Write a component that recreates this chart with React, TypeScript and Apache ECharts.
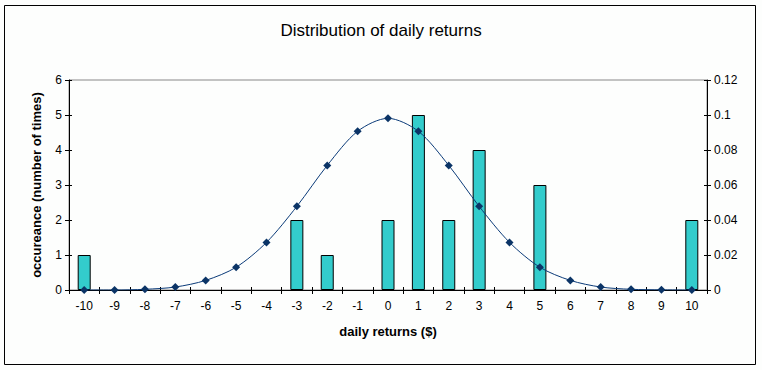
import React, { useEffect, useRef } from "react";
import * as echarts from "echarts";

const categories = ["-10","-9","-8","-7","-6","-5","-4","-3","-2","-1","0","1","2","3","4","5","6","7","8","9","10"];
const occurrences = [1,0,0,0,0,0,0,2,1,0,2,5,2,4,0,3,0,0,0,0,2];
const density = [0,0,0.0004,0.0017,0.0055,0.013,0.0272,0.0478,0.0712,0.0907,0.0981,0.0907,0.0712,0.0478,0.0272,0.013,0.0055,0.0017,0.0004,0.0001,0];
const titleText = "Distribution of daily returns";
const xName = "daily returns ($)";
const yName = "occureance (number of times)";

const FONT = "'Liberation Sans', Arial, sans-serif";

export default function App() {
  const ref = useRef<HTMLDivElement>(null);
  useEffect(() => {
    const chart = echarts.init(ref.current!, null, { renderer: "svg" });
    const axisLine = { lineStyle: { color: "#000", width: 1 } };
    const label = { color: "#000", fontFamily: FONT, fontSize: 12 };
    const barData = occurrences.map((v) =>
      v === 0 ? { value: v, itemStyle: { borderWidth: 0 } } : v
    );
    chart.setOption({
      animation: false,
      backgroundColor: "#fdfefd",
      title: {
        text: titleText,
        left: "center",
        top: 17,
        textStyle: { fontFamily: FONT, fontSize: 17, fontWeight: "normal", color: "#000" },
      },
      graphic: [
        {
          type: "rect",
          shape: { x: 4.5, y: 5.5, width: 751, height: 359 },
          style: { fill: "none", stroke: "#000", lineWidth: 1 },
          silent: true,
        },
      ],
      grid: {
        left: 69,
        right: 55,
        top: 80,
        bottom: 80,
        show: true,
        borderColor: "#888",
        borderWidth: 1,
        backgroundColor: "transparent",
      },
      xAxis: [
        {
          type: "category",
          data: categories,
          boundaryGap: true,
          name: xName,
          nameLocation: "middle",
          nameGap: 35,
          nameTextStyle: { fontFamily: FONT, fontSize: 13, fontWeight: "bold", color: "#000" },
          axisLine,
          axisTick: { show: true, length: 4, lineStyle: { color: "#000" } },
          axisLabel: { ...label, margin: 10 },
          splitLine: { show: false },
        },
        {
          type: "category",
          data: categories,
          boundaryGap: true,
          position: "bottom",
          axisLine: { show: false },
          axisTick: { show: true, inside: true, length: 3, lineStyle: { color: "#000" } },
          axisLabel: { show: false },
          splitLine: { show: false },
        },
      ],
      yAxis: [
        {
          type: "value",
          min: 0,
          max: 6,
          interval: 1,
          position: "left",
          name: yName,
          nameLocation: "middle",
          nameGap: 26,
          nameTextStyle: { fontFamily: FONT, fontSize: 13, fontWeight: "bold", color: "#000" },
          axisLine: { show: true, ...axisLine },
          axisTick: { show: true, length: 4, lineStyle: { color: "#000" } },
          axisLabel: { ...label, margin: 7 },
          splitLine: { show: false },
        },
        {
          type: "value",
          min: 0,
          max: 0.12,
          interval: 0.02,
          position: "right",
          axisLine: { show: true, ...axisLine },
          axisTick: { show: true, length: 4, lineStyle: { color: "#000" } },
          axisLabel: { ...label, margin: 7 },
          splitLine: { show: false },
        },
        {
          type: "value",
          min: 0,
          max: 6,
          interval: 1,
          position: "left",
          axisLine: { show: false },
          axisTick: { show: true, inside: true, length: 3, lineStyle: { color: "#000" } },
          axisLabel: { show: false },
          splitLine: { show: false },
        },
        {
          type: "value",
          min: 0,
          max: 0.12,
          interval: 0.02,
          position: "right",
          axisLine: { show: false },
          axisTick: { show: true, inside: true, length: 3, lineStyle: { color: "#000" } },
          axisLabel: { show: false },
          splitLine: { show: false },
        },
      ],
      series: [
        {
          type: "bar",
          data: barData,
          yAxisIndex: 0,
          barWidth: 13,
          itemStyle: { color: "#33cccc", borderColor: "#000", borderWidth: 1 },
          z: 2,
        },
        {
          type: "line",
          data: density,
          yAxisIndex: 1,
          smooth: 0.3,
          symbol: "diamond",
          symbolSize: 8,
          lineStyle: { color: "#0a3a78", width: 1 },
          itemStyle: { color: "#0b3466" },
          z: 3,
        },
      ],
    });
    return () => chart.dispose();
  }, []);
  return (
    <div
      ref={ref}
      style={{ position: "absolute", left: 0, top: 0, width: 762, height: 370 }}
    />
  );
}
